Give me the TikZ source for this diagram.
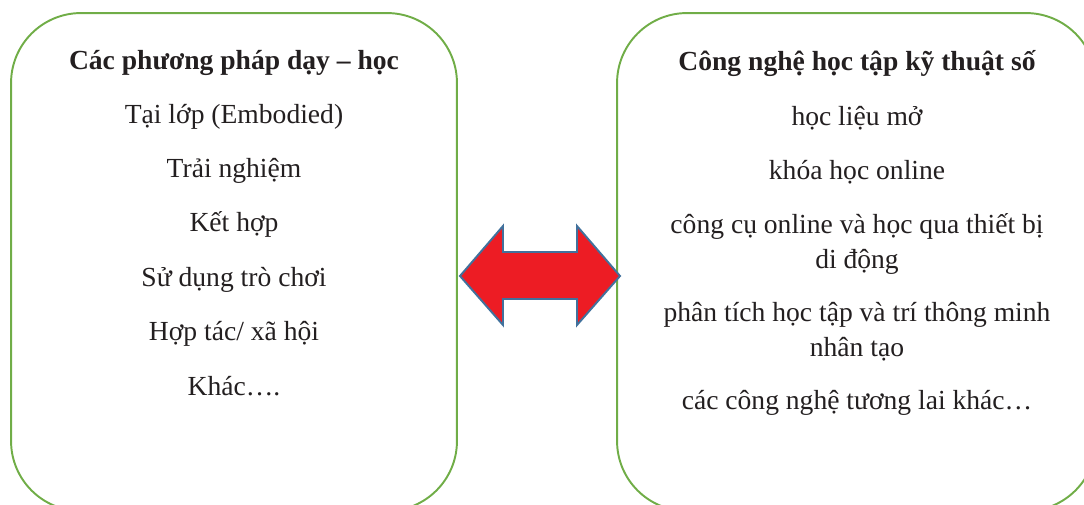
\documentclass[tikz,border=0pt]{standalone}
\usepackage{fontspec}
\setmainfont{Liberation Serif}
\definecolor{boxgreen}{HTML}{70AD47}
\definecolor{arrowred}{HTML}{ED1C24}
\definecolor{arrowblue}{HTML}{41719C}
\definecolor{txtgray}{HTML}{231F20}
\tikzstyle{panel}=[draw=boxgreen,line width=1.1pt,rounded corners=1.4cm,inner sep=0pt]
\tikzstyle{item}=[text=txtgray,anchor=base,align=center,inner sep=0pt,font=\fontsize{15.7}{19.8}\selectfont]
\tikzstyle{head}=[item,font=\fontsize{15.7}{19.8}\selectfont\bfseries]
\tikzstyle{bigarrow}=[fill=arrowred,draw=arrowblue,line width=1.1pt,line join=miter]

\begin{document}
\begin{tikzpicture}[x=0.02cm,y=-0.02cm]
\useasboundingbox (0,0) rectangle (1084,504);
\clip (0,0) rectangle (1084,504);
% the two panels
\node[panel,minimum width=8.92cm,minimum height=9.96cm] (L) at (234,262) {};
\node[panel,minimum width=9.58cm,minimum height=9.96cm] (R) at (856.5,262) {};
% left column
\node[head] (L0) at (234,69) {Các phương pháp dạy – học};
\node[item] (L1) at (234,123) {Tại lớp (Embodied)};
\node[item] (L2) at (234,177) {Trải nghiệm};
\node[item] (L3) at (234,231) {Kết hợp};
\node[item] (L4) at (234,286) {Sử dụng trò chơi};
\node[item] (L5) at (234,340) {Hợp tác/ xã hội};
\node[item] (L6) at (234,395) {Khác….};
% right column (two-line items sit on their last baseline)
\node[head] (R0) at (857,70) {Công nghệ học tập kỹ thuật số};
\node[item] (R1) at (857,125) {học liệu mở};
\node[item] (R2) at (857,179) {khóa học online};
\node[item] (R3) at (857,268) {công cụ online và học qua thiết bị\\di động};
\node[item] (R4) at (857,356) {phân tích học tập và trí thông minh\\nhân tạo};
\node[item] (R5) at (857,409) {các công nghệ tương lai khác…};
% double arrow between the panels
\draw[bigarrow] (460,276) -- (503,226) -- (503,252) -- (577,252) -- (577,226)
  -- (620,276) -- (577,325) -- (577,299) -- (503,299) -- (503,325) -- cycle;
\end{tikzpicture}
\end{document}
